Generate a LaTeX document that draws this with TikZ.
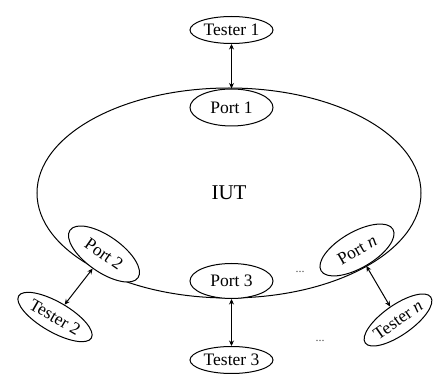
\documentclass[tikz,border=0pt]{standalone}
\usepackage{fontspec}
\setmainfont{Liberation Serif}
\usetikzlibrary{shapes.geometric,arrows.meta}
\begin{document}
\begin{tikzpicture}[x=1pt,y=-1pt,
  lbl/.style={font=\fontsize{17.5}{20}\selectfont},
  oval/.style={draw, ellipse, fill=white, inner sep=0pt, line width=1pt, lbl},
  link/.style={{Stealth[length=5.5pt,width=5pt]}-{Stealth[length=5.5pt,width=5pt]}, line width=1pt},
  dots/.style={font=\fontsize{12}{14}\selectfont, text=black!70}
]
\useasboundingbox (0,0) rectangle (434,374);
\node[draw, ellipse, inner sep=0pt, line width=1pt, minimum width=384, minimum height=210,
      font=\fontsize{21}{25}\selectfont] (iut) at (229,193) {IUT};
\node[oval, minimum width=83, minimum height=27] (t1) at (231.5,30) {Tester 1};
\node[oval, minimum width=83, minimum height=37] (p1) at (231.5,107.5) {Port 1};
\node[oval, minimum width=83, minimum height=35] (p3) at (231.5,281) {Port 3};
\node[oval, minimum width=83, minimum height=27] (t3) at (231.5,360) {Tester 3};
\node[oval, minimum width=83, minimum height=36, rotate=-35] (p2) at (104,254) {Port 2};
\node[oval, minimum width=84, minimum height=30, rotate=-30] (t2) at (55,317) {Tester 2};
\node[oval, minimum width=83, minimum height=36, rotate=30] (pn) at (357,250) {Port \textit{n}};
\node[oval, minimum width=80, minimum height=30, rotate=35] (tn) at (398,320) {Tester \textit{n}};
\draw[link] (t1) -- (p1);
\draw[link] (p3) -- (t3);
\draw[link] (p2) -- (t2);
\draw[link] (pn) -- (tn);
\node[dots] (d1) at (300,272) {...};
\node[dots] (d2) at (320,341) {...};
\end{tikzpicture}
\end{document}
